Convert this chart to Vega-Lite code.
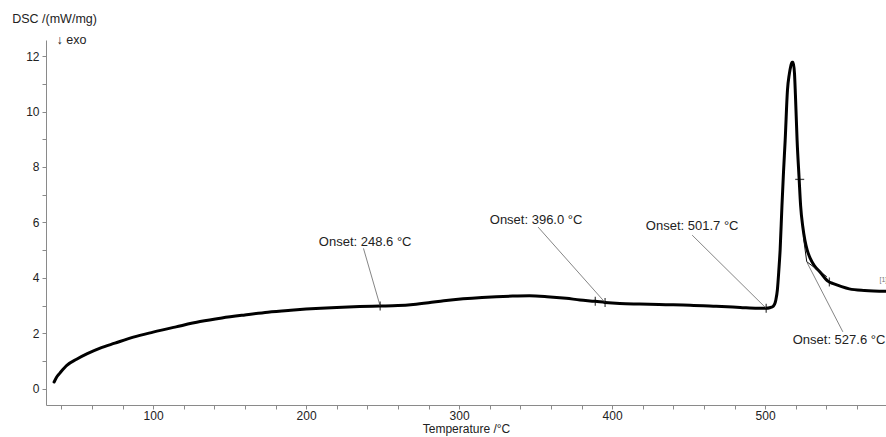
{
  "$schema": "https://vega.github.io/schema/vega-lite/v6.json",
  "width": 840,
  "height": 365,
  "autosize": {"type": "none"},
  "padding": {"left": 46, "top": 40, "right": 0, "bottom": 32},
  "background": "white",
  "config": {
    "view": {"stroke": null},
    "axis": {
      "grid": false,
      "domainColor": "#8a8a8a",
      "tickColor": "#8a8a8a",
      "tickSize": 4,
      "labelFont": "Liberation Sans",
      "labelFontSize": 12,
      "labelColor": "#222222",
      "titleFont": "Liberation Sans",
      "titleFontSize": 12,
      "titleFontWeight": "normal",
      "titleColor": "#222222"
    }
  },
  "datasets": {
    "curve": [
      {"t": 35.3, "dsc": 0.24}, {"t": 37, "dsc": 0.42}, {"t": 39.2, "dsc": 0.57}, {"t": 43.6, "dsc": 0.84},
      {"t": 50, "dsc": 1.06}, {"t": 57, "dsc": 1.26}, {"t": 65.4, "dsc": 1.46}, {"t": 75, "dsc": 1.64},
      {"t": 87.1, "dsc": 1.86}, {"t": 100, "dsc": 2.04}, {"t": 115, "dsc": 2.23}, {"t": 130.7, "dsc": 2.42},
      {"t": 145, "dsc": 2.55}, {"t": 160, "dsc": 2.66}, {"t": 175, "dsc": 2.76}, {"t": 190, "dsc": 2.83},
      {"t": 200, "dsc": 2.87}, {"t": 220, "dsc": 2.93}, {"t": 235, "dsc": 2.96}, {"t": 248.4, "dsc": 2.98},
      {"t": 260, "dsc": 3.0}, {"t": 270, "dsc": 3.04}, {"t": 280, "dsc": 3.1}, {"t": 290, "dsc": 3.17},
      {"t": 302.6, "dsc": 3.24}, {"t": 315, "dsc": 3.29},
      {"t": 335, "dsc": 3.34}, {"t": 346, "dsc": 3.35}, {"t": 357.4, "dsc": 3.32}, {"t": 370, "dsc": 3.26},
      {"t": 379, "dsc": 3.2}, {"t": 389, "dsc": 3.15}, {"t": 395.4, "dsc": 3.11}, {"t": 405, "dsc": 3.07},
      {"t": 418, "dsc": 3.05}, {"t": 435, "dsc": 3.03}, {"t": 451, "dsc": 3.01}, {"t": 468, "dsc": 2.97},
      {"t": 483.7, "dsc": 2.93}, {"t": 495, "dsc": 2.9}, {"t": 500.7, "dsc": 2.9}, {"t": 503, "dsc": 2.92},
      {"t": 505.4, "dsc": 2.98}, {"t": 507, "dsc": 3.2}, {"t": 508, "dsc": 3.56}, {"t": 509, "dsc": 4.3},
      {"t": 509.8, "dsc": 5.0}, {"t": 511, "dsc": 6.6}, {"t": 512, "dsc": 7.8}, {"t": 513.1, "dsc": 8.96},
      {"t": 514.6, "dsc": 10.77}, {"t": 515.8, "dsc": 11.35}, {"t": 516.8, "dsc": 11.65}, {"t": 517.6, "dsc": 11.78},
      {"t": 518.3, "dsc": 11.78}, {"t": 519.2, "dsc": 11.37}, {"t": 519.8, "dsc": 10.6}, {"t": 520.9, "dsc": 8.96},
      {"t": 522.2, "dsc": 7.6}, {"t": 523.2, "dsc": 6.6}, {"t": 524.6, "dsc": 5.85}, {"t": 526, "dsc": 5.35},
      {"t": 527.5, "dsc": 5.0}, {"t": 529.5, "dsc": 4.7}, {"t": 532, "dsc": 4.45}, {"t": 536, "dsc": 4.2},
      {"t": 541, "dsc": 3.88}, {"t": 545, "dsc": 3.78}, {"t": 550, "dsc": 3.68}, {"t": 555, "dsc": 3.6},
      {"t": 565, "dsc": 3.54}, {"t": 579, "dsc": 3.51}
    ],
    "onsetMarks": [
      {"t": 248.4, "dsc": 2.98}, {"t": 389, "dsc": 3.15}, {"t": 395.4, "dsc": 3.11},
      {"t": 500.7, "dsc": 2.9}, {"t": 542, "dsc": 3.85}
    ],
    "peakMark": [
      {"t": 522.6, "dsc": 7.55}
    ],
    "leaders": [
      {"t": 237.5, "dsc": 5.06, "t2": 248.4, "dsc2": 2.98},
      {"t": 351.6, "dsc": 5.83, "t2": 395.4, "dsc2": 3.11},
      {"t": 452.3, "dsc": 5.54, "t2": 500.7, "dsc2": 2.9},
      {"t": 550.8, "dsc": 2.05, "t2": 527.4, "dsc2": 4.55}
    ],
    "tangents": [
      {"t": 525.0, "dsc": 5.48, "t2": 527.2, "dsc2": 4.58},
      {"t": 527.2, "dsc": 4.58, "t2": 540.3, "dsc2": 4.04}
    ],
    "labels": [
      {"t": 238.6, "dsc": 5.3, "text": "Onset: 248.6 °C"},
      {"t": 350.3, "dsc": 6.08, "text": "Onset: 396.0 °C"},
      {"t": 452.3, "dsc": 5.87, "text": "Onset: 501.7 °C"},
      {"t": 548.3, "dsc": 1.75, "text": "Onset: 527.6 °C"}
    ],
    "exo": [
      {"t": 46.6, "dsc": 12.57, "text": "↓ exo"}
    ],
    "seg": [
      {"t": 577.3, "dsc": 3.92, "text": "[1]"}
    ]
  },
  "encoding": {
    "x": {
      "field": "t",
      "type": "quantitative",
      "scale": {"domain": [30, 579], "nice": false, "zero": false},
      "axis": {
        "title": "Temperature /°C",
        "values": [40, 60, 80, 100, 120, 140, 160, 180, 200, 220, 240, 260, 280, 300, 320, 340, 360, 380, 400, 420, 440, 460, 480, 500, 520, 540, 560],
        "labelExpr": "datum.value % 100 === 0 ? datum.label : ''",
        "labelOverlap": false,
        "labelFlush": false,
        "labelPadding": 1,
        "titlePadding": 2
      }
    },
    "y": {
      "field": "dsc",
      "type": "quantitative",
      "scale": {"domain": [-0.59, 12.58], "nice": false, "zero": false},
      "axis": {
        "title": "DSC /(mW/mg)",
        "values": [0, 1, 2, 3, 4, 5, 6, 7, 8, 9, 10, 11, 12],
        "labelExpr": "datum.value % 2 === 0 ? datum.label : ''",
        "labelOverlap": false,
        "labelPadding": 3,
        "titleAngle": 0,
        "titleAlign": "left",
        "titleBaseline": "middle",
        "titleX": -34.3,
        "titleY": -21.7,
        "titleFontSize": 12.5
      }
    }
  },
  "layer": [
    {
      "data": {"name": "curve"},
      "mark": {"type": "line", "color": "#000000", "strokeWidth": 3, "interpolate": "monotone", "clip": true, "strokeCap": "round", "strokeJoin": "round"}
    },
    {
      "data": {"name": "leaders"},
      "mark": {"type": "rule", "color": "#666666", "strokeWidth": 0.8},
      "encoding": {
        "x2": {"field": "t2"},
        "y2": {"field": "dsc2"}
      }
    },
    {
      "data": {"name": "tangents"},
      "mark": {"type": "rule", "color": "#111111", "strokeWidth": 1},
      "encoding": {
        "x2": {"field": "t2"},
        "y2": {"field": "dsc2"}
      }
    },
    {
      "data": {"name": "onsetMarks"},
      "mark": {"type": "tick", "orient": "vertical", "color": "#000000", "size": 9, "thickness": 1.3}
    },
    {
      "data": {"name": "peakMark"},
      "mark": {"type": "tick", "orient": "horizontal", "color": "#000000", "size": 9, "thickness": 1.3}
    },
    {
      "data": {"name": "labels"},
      "mark": {"type": "text", "font": "Liberation Sans", "fontSize": 13, "color": "#222222", "align": "center", "baseline": "middle"},
      "encoding": {"text": {"field": "text"}}
    },
    {
      "data": {"name": "exo"},
      "mark": {"type": "text", "font": "Liberation Sans", "fontSize": 12.5, "color": "#222222", "align": "center", "baseline": "middle", "clip": false},
      "encoding": {"text": {"field": "text"}}
    },
    {
      "data": {"name": "seg"},
      "mark": {"type": "text", "font": "Liberation Sans", "fontSize": 7, "color": "#777777", "align": "center", "baseline": "middle"},
      "encoding": {"text": {"field": "text"}}
    }
  ]
}
